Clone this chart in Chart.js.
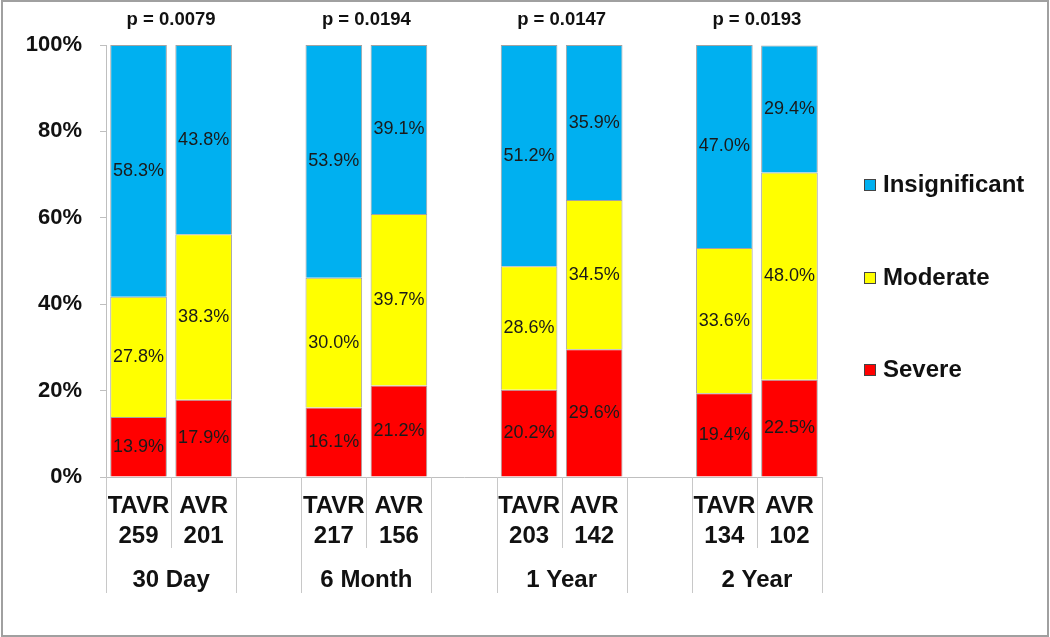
<!DOCTYPE html>
<html>
<head>
<meta charset="utf-8">
<script src="https://cdn.jsdelivr.net/npm/chart.js@4.4.1/dist/chart.umd.min.js"></script>
<style>
  html, body { margin: 0; padding: 0; background: #fff; }
  #wrap { width: 1050px; height: 637px; position: relative; }
</style>
</head>
<body>
<div id="wrap"><canvas id="chart"></canvas></div>
<script>
const groups = ['30 Day', '6 Month', '1 Year', '2 Year'];
const arms = ['TAVR', 'AVR'];
const patientCounts = ['259', '201', '217', '156', '203', '142', '134', '102'];
const pValues = ['p = 0.0079', 'p = 0.0194', 'p = 0.0147', 'p = 0.0193'];
const severe = [13.9, 17.9, 16.1, 21.2, 20.2, 29.6, 19.4, 22.5];
const moderate = [27.8, 38.3, 30.0, 39.7, 28.6, 34.5, 33.6, 48.0];
const insignificant = [58.3, 43.8, 53.9, 39.1, 51.2, 35.9, 47.0, 29.4];
const yTicks = [0, 20, 40, 60, 80, 100];

const FONT = "'Liberation Sans', Arial, sans-serif";
Chart.defaults.font.family = FONT;

// spread the 8 bars over 11 slots, one empty slot between groups
function withGaps(values, gap) {
    const out = [];
    values.forEach((v, i) => {
        if (i > 0 && i % 2 === 0) out.push(gap);
        out.push(v);
    });
    return out;
}

const labels = withGaps(patientCounts.map((n, i) => [arms[i % 2], n]), '');

const extras = {
    id: 'extras',
    beforeDraw(chart) {
        const ctx = chart.ctx;
        ctx.save();
        ctx.strokeStyle = '#a0a0a0';
        ctx.lineWidth = 2;
        ctx.strokeRect(2, 1, chart.width - 4, chart.height - 2);
        ctx.restore();
    },
    afterDatasetsDraw(chart) {
        const ctx = chart.ctx;
        ctx.save();
        ctx.font = '18px ' + FONT;
        ctx.fillStyle = '#1a1a1a';
        ctx.textAlign = 'center';
        ctx.textBaseline = 'middle';
        chart.data.datasets.forEach((ds, di) => {
            chart.getDatasetMeta(di).data.forEach((el, i) => {
                const v = ds.data[i];
                if (v == null) return;
                ctx.fillText(v.toFixed(1) + '%', el.x, (el.y + el.base) / 2);
            });
        });
        ctx.restore();
    },
    afterDraw(chart) {
        const ctx = chart.ctx;
        const x = chart.scales.x;
        const area = chart.chartArea;
        const half = (x.getPixelForValue(1) - x.getPixelForValue(0)) / 2;
        ctx.save();

        // separators under the axis
        ctx.strokeStyle = '#c8c8c8';
        ctx.lineWidth = 1;
        groups.forEach((g, gi) => {
            const first = gi * 3;
            const left = x.getPixelForValue(first) - half;
            const mid = x.getPixelForValue(first) + half;
            const right = x.getPixelForValue(first + 1) + half;
            [[left, 116], [mid, 71], [right, 116]].forEach(([px, len]) => {
                ctx.beginPath();
                ctx.moveTo(Math.round(px) + 0.5, area.bottom);
                ctx.lineTo(Math.round(px) + 0.5, area.bottom + len);
                ctx.stroke();
            });

            // group label and p-value
            ctx.fillStyle = '#111';
            ctx.textAlign = 'center';
            ctx.textBaseline = 'middle';
            ctx.font = 'bold 24px ' + FONT;
            ctx.fillText(g, mid, area.bottom + 103);
            ctx.font = 'bold 18.5px ' + FONT;
            ctx.fillText(pValues[gi], mid, 20);
        });

        // legend, top to bottom
        const legendY = [185, 278, 370];
        const items = chart.data.datasets.slice().reverse();
        items.forEach((ds, i) => {
            const bx = area.right + 42;
            const cy = legendY[i];
            ctx.fillStyle = ds.backgroundColor;
            ctx.fillRect(bx, cy - 6, 12, 12);
            ctx.strokeStyle = '#444';
            ctx.strokeRect(bx + 0.5, cy - 5.5, 11, 11);
            ctx.fillStyle = '#111';
            ctx.textAlign = 'left';
            ctx.font = 'bold 24px ' + FONT;
            ctx.fillText(ds.label, bx + 19, cy);
        });
        ctx.restore();
    }
};

const ctx = document.getElementById('chart').getContext('2d');
new Chart(ctx, {
    type: 'bar',
    data: {
        labels: labels,
        datasets: [
            { label: 'Severe', data: withGaps(severe, null), backgroundColor: '#FF0000' },
            { label: 'Moderate', data: withGaps(moderate, null), backgroundColor: '#FFFF00' },
            { label: 'Insignificant', data: withGaps(insignificant, null), backgroundColor: '#00B0F0' }
        ]
    },
    options: {
        responsive: true,
        maintainAspectRatio: false,
        animation: false,
        layout: { padding: { top: 45, right: 228, left: 0, bottom: 0 } },
        datasets: {
            bar: {
                categoryPercentage: 1,
                barPercentage: 0.87,
                borderWidth: 1,
                borderColor: 'rgba(70, 70, 70, 0.5)'
            }
        },
        plugins: {
            legend: { display: false },
            tooltip: { enabled: false }
        },
        scales: {
            x: {
                stacked: true,
                grid: { display: false, drawTicks: false },
                border: { display: true, color: '#bfbfbf', width: 1 },
                ticks: {
                    padding: 14,
                    color: '#111',
                    autoSkip: false,
                    maxRotation: 0,
                    font: { size: 24, weight: 'bold', lineHeight: 1.25 }
                },
                afterFit(s) { s.height = 160; }
            },
            y: {
                stacked: true,
                min: 0,
                max: 100,
                afterBuildTicks(s) { s.ticks = yTicks.map(v => ({ value: v })); },
                ticks: {
                    padding: 18,
                    color: '#111',
                    callback: v => v + '%',
                    font: { size: 22, weight: 'bold' }
                },
                grid: { drawOnChartArea: false, tickLength: 6, color: '#bfbfbf' },
                border: { color: '#bfbfbf' },
                afterFit(s) { s.width = 106; }
            }
        }
    },
    plugins: [extras]
});
</script>
</body>
</html>
